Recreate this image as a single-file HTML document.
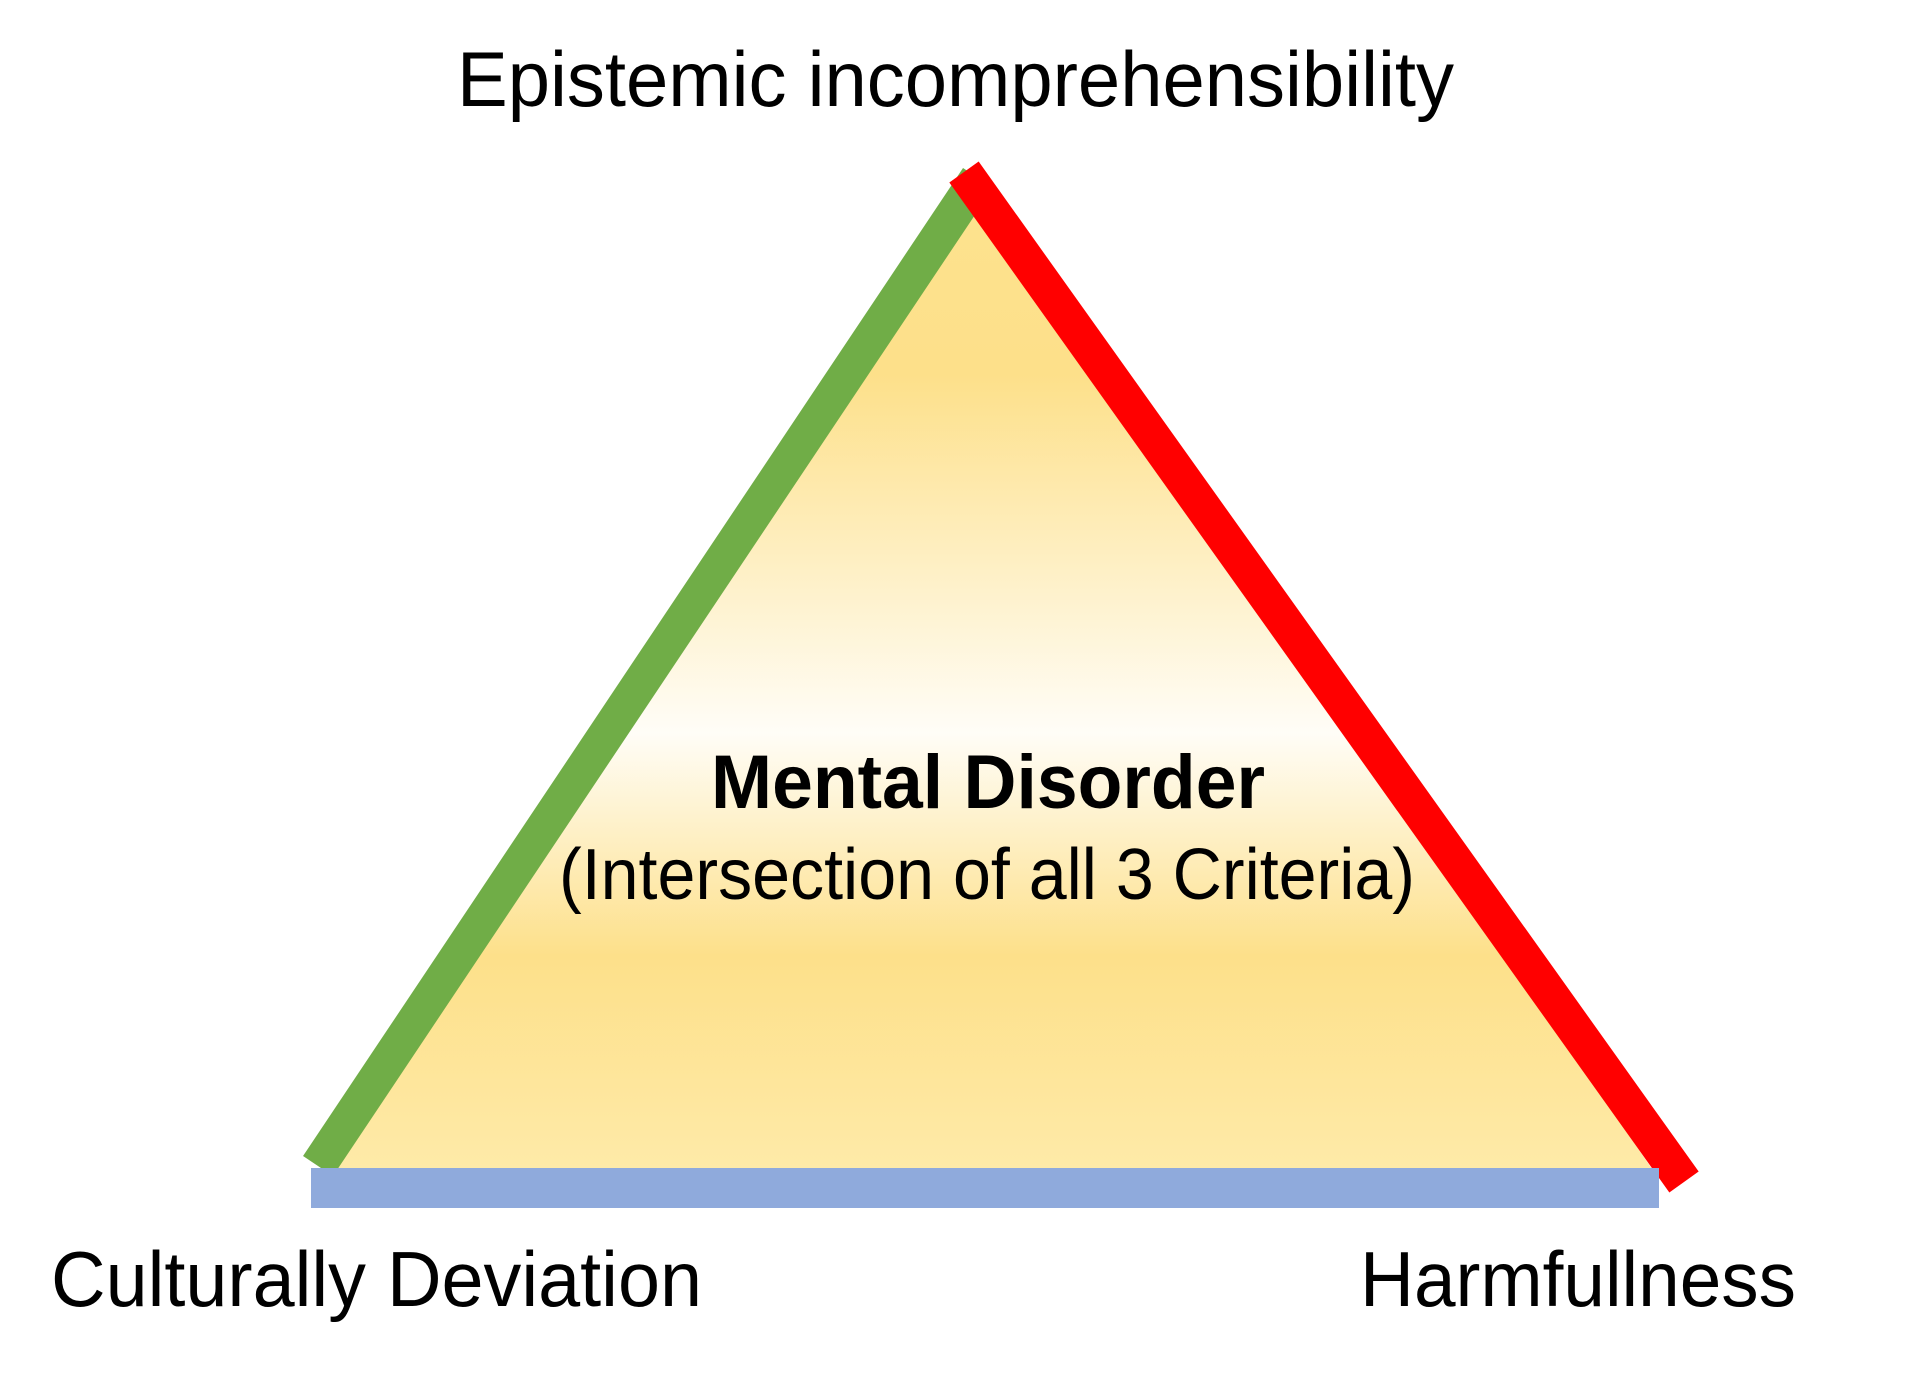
<!DOCTYPE html>
<html><head><style>html,body{margin:0;padding:0;background:#fff;}svg{display:block}</style></head>
<body>
<svg width="1917" height="1378" viewBox="0 0 1917 1378" xmlns="http://www.w3.org/2000/svg">
<defs>
<linearGradient id="g" x1="0" y1="200" x2="0" y2="1169" gradientUnits="userSpaceOnUse">
<stop offset="0" stop-color="#FDE28E"/>
<stop offset="0.18" stop-color="#FDE08A"/>
<stop offset="0.55" stop-color="#FFFDF7"/>
<stop offset="0.78" stop-color="#FDE08A"/>
<stop offset="1" stop-color="#FEEAA8"/>
</linearGradient>
</defs>
<polygon points="984,195 330,1169 1652,1169" fill="url(#g)"/>
<line x1="318" y1="1166" x2="978" y2="178" stroke="#70AD47" stroke-width="36"/>
<line x1="964" y1="172" x2="1684" y2="1182" stroke="#FF0000" stroke-width="36"/>
<rect x="311" y="1168" width="1348" height="40" fill="#8FAADC"/>
<g font-family="Liberation Sans, sans-serif" fill="#000">
<text x="457" y="106" font-size="78" textLength="997" lengthAdjust="spacingAndGlyphs">Epistemic incomprehensibility</text>
<text x="711" y="808" font-size="76" font-weight="bold" textLength="554" lengthAdjust="spacingAndGlyphs">Mental Disorder</text>
<text x="559" y="899" font-size="72" textLength="856" lengthAdjust="spacingAndGlyphs">(Intersection of all 3 Criteria)</text>
<text x="51" y="1306" font-size="78" textLength="651" lengthAdjust="spacingAndGlyphs">Culturally Deviation</text>
<text x="1360" y="1306" font-size="78" textLength="436" lengthAdjust="spacingAndGlyphs">Harmfullness</text>
</g>
</svg>
</body></html>
